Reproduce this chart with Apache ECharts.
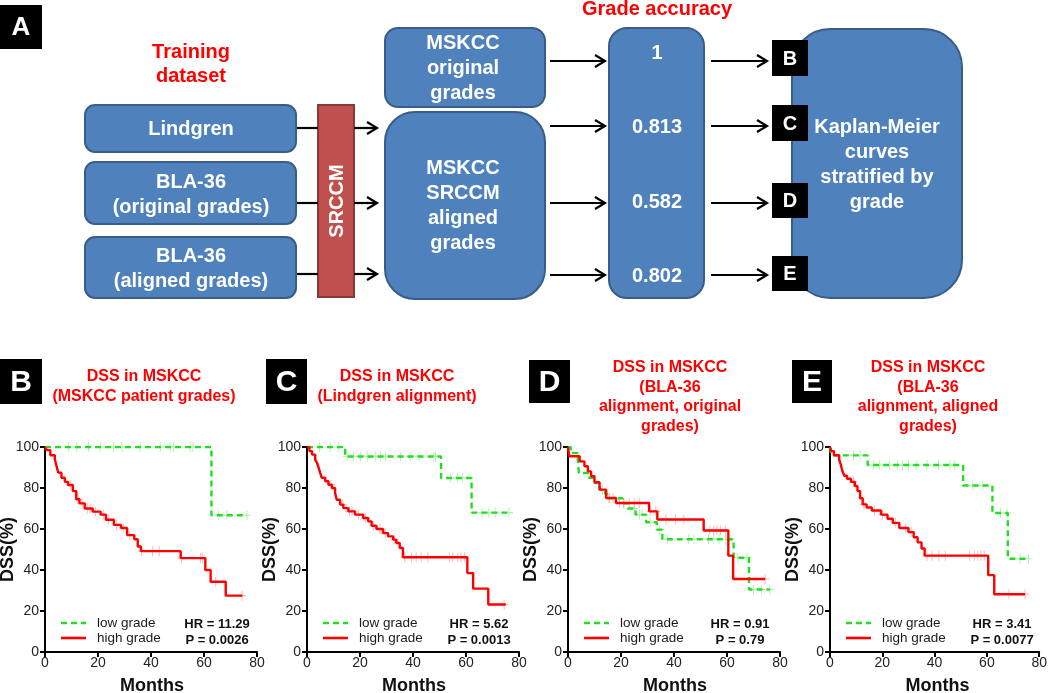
<!DOCTYPE html>
<html><head><meta charset="utf-8">
<script src="https://cdn.jsdelivr.net/npm/echarts@6/dist/echarts.min.js"></script>
<style>html,body{margin:0;padding:0;background:#fff}#c{width:1050px;height:693px}</style>
</head><body><div id="c"></div>
<script>
// ---------- DATA ----------
const xTicks = [0, 20, 40, 60, 80];
const yTicks = [0, 20, 40, 60, 80, 100];
const gradeAccuracy = ['1', '0.813', '0.582', '0.802'];
const panelLetters = ['B', 'C', 'D', 'E'];
const hrTexts = ['HR = 11.29', 'HR = 5.62', 'HR = 0.91', 'HR = 3.41'];
const pTexts = ['P = 0.0026', 'P = 0.0013', 'P = 0.79', 'P = 0.0077'];
const titlesB = ['DSS in MSKCC', '(MSKCC patient grades)'];
const titlesC = ['DSS in MSKCC', '(Lindgren alignment)'];
const titlesD = ['DSS in MSKCC', '(BLA-36', 'alignment, original', 'grades)'];
const titlesE = ['DSS in MSKCC', '(BLA-36', 'alignment, aligned', 'grades)'];

// Panel B (MSKCC patient grades): [months, DSS%] at events; last point = end of follow-up
const bLow = [[0,100],[62.8,66.7],[76.2,66.7]];
const bLowCens = [8.8,12,16.4,20.8,25.8,29,35.9,43.5,47.2,48.5,54.8,55.8,65.5,68.6,76.2];
const bHigh = [[0,100],[0.6,98.5],[2,96],[3.7,94],[4.4,90.5],[5,87.5],[6.2,85],[7.5,83],[8.7,81.5],[10.5,78.5],[11.8,74.5],[13,72.5],[15,70],[18,68.5],[21,67],[23,64.5],[26,62],[28.7,60.5],[31,57],[33.7,55],[35,51.5],[36.2,49.2],[51.2,45.8],[60.5,40],[62.5,34.3],[68.2,27.5],[74.5,27.5]];
const bHighCens = [9.5,12.5,14,16,17,19,22,24,27,29.5,32,36.5,40.6,43.1,51.5,58.7,59.4,64.4,74.4];

// Panel C (Lindgren alignment)
const cLow = [[0,100],[14.4,95.4],[50.6,84.9],[62.1,68],[76.2,68]];
const cLowCens = [4.7,8.8,12,15.1,17.6,20.2,22.7,25.8,27.7,29.6,35.3,39,42.2,47.9,48.5,54.2,56.7,58.6,66.1,68.6,71.2,76.2];
const cHigh = [[0,100],[0.9,98],[1.9,96.3],[3.1,93.8],[3.8,92.2],[4.4,89.8],[5,87.3],[5.6,85],[6.9,83.3],[8.1,81.6],[9.4,80],[10.6,77.6],[11.2,74.3],[12.5,71.9],[13.7,70.2],[15.6,68.6],[18.1,67],[21.2,65.4],[23.1,63.7],[24.4,61.6],[26.2,60],[28.7,58],[30.6,56.4],[32.5,54.8],[33.7,53.2],[35,50.7],[36.2,46.2],[60.5,38.5],[62.7,30.9],[68.4,23.2],[75,23.2]];
const cHighCens = [9,13.5,16,17,19.5,22,25,27.5,29.5,33,36.9,39.4,41.2,43.1,45.6,53.7,55,56.9,58.1,59.4,74.4];

// Panel D (BLA-36 alignment, original grades)
const dLow = [[0,100],[1,97],[3.7,94],[4.1,87.3],[7.5,85],[10,82.4],[12,79.2],[14,77],[15,75],[20.6,72.5],[22.5,70],[25.5,67],[29.5,63.3],[33.5,59.7],[35.6,55],[62.5,46],[68.3,30.5],[76.2,30.5]];
const dLowCens = [13,15.5,21,25,27,28,31,34.5,37.5,45.5,47.5,53,55,57,59.5,61.5,64,67.5,70,73,76.2];
const dHigh = [[0,100],[0.5,95.5],[4.4,93],[6.2,90.6],[7.5,88.1],[8.7,85.7],[10,82.8],[11.9,79.2],[14.4,75.1],[18.1,72.7],[30.6,68.6],[33.7,64.6],[51.2,59.3],[60.5,47],[62.3,35.6],[74.4,35.6]];
const dHighCens = [15.6,17,19.4,21,23.1,25,26.9,31.2,33.1,36.9,40.6,43.7,53.5,55,56.2,57.5,59.4,74.4];

// Panel E (BLA-36 alignment, aligned grades)
const eLow = [[0,100],[0.5,95.9],[14.4,91.2],[50.9,81.2],[62.1,67.8],[68,45.5],[75.9,45.5]];
const eLowCens = [9,11.5,16.5,19,22.7,25.9,27.7,30,33,37.1,41.5,45.9,47.7,54.6,58.4,65.2,67.7,72.7,75.9];
const eHigh = [[0,100],[0.5,98],[1.5,96],[3.5,94],[4.2,91],[4.8,88],[5.5,86],[6.5,84.5],[8,83],[9.5,81],[10.5,78.5],[11.5,75],[12.5,72],[14,70.5],[16,69],[19.5,67],[22,65],[24,63],[26.5,60.5],[30,58.5],[32,56],[33.5,53.5],[35,50.5],[36.2,47],[60.5,37.5],[62.8,28.2],[74.6,28.2]];
const eHighCens = [9,13,17,20,25,29,31,37.1,39,41.6,44.1,53.4,55.2,56.5,57.7,59,68.4,74.6];

// ---------- BUILD ----------
const FF = "'Liberation Sans', Arial, Helvetica, sans-serif";
const GREEN = '#22dd22', RED = '#ff0000';
const panels = [
  {left:45, width:212, low:bLow, lowC:bLowCens, high:bHigh, highC:bHighCens, titles:titlesB, tx:144, ty:377, box:[0,359,42,45]},
  {left:307, width:212, low:cLow, lowC:cLowCens, high:cHigh, highC:cHighCens, titles:titlesC, tx:397, ty:377, box:[266,359,41,45]},
  {left:568, width:212, low:dLow, lowC:dLowCens, high:dHigh, highC:dHighCens, titles:titlesD, tx:670, ty:368, box:[529,360,41,43]},
  {left:830, width:213, low:eLow, lowC:eLowCens, high:eHigh, highC:eHighCens, titles:titlesE, tx:928, ty:368, box:[792,360,40,43]}
];
const TOP = 447, H = 205;

function survAt(curve, t) {
  let v = curve[0][1];
  for (const p of curve) { if (p[0] <= t) v = p[1]; }
  return v;
}
const PLUS = 'path://M-0.12,-1 L0.12,-1 L0.12,-0.12 L1,-0.12 L1,0.12 L0.12,0.12 L0.12,1 L-0.12,1 L-0.12,0.12 L-1,0.12 L-1,-0.12 L-0.12,-0.12 Z';

const grids = [], xAxes = [], yAxes = [], series = [], graphics = [];
function T(x, y, text, size, color, weight, align, valign, rot) {
  return {type:'text', x:x, y:y, rotation:rot||0, z:20,
    style:{text:text, fill:color, fontSize:size, fontWeight:weight||'normal', fontFamily:FF,
      textAlign:align||'center', textVerticalAlign:valign||'middle'}};
}
function R(x, y, w, h, r, fill, stroke, z) {
  return {type:'rect', z:z||5, shape:{x:x, y:y, width:w, height:h, r:r}, style:{fill:fill, stroke:stroke||null, lineWidth:stroke?2:0}};
}
function ARROW(x1, x2, y) {
  return [
    {type:'line', z:6, shape:{x1:x1, y1:y, x2:x2-1, y2:y}, style:{stroke:'#000', lineWidth:2.2}},
    {type:'polyline', z:6, shape:{points:[[x2-10,y-6],[x2,y],[x2-10,y+6]]}, style:{stroke:'#000', lineWidth:2.2, fill:null}}
  ];
}

panels.forEach((p, i) => {
  grids.push({left:p.left, top:TOP, width:p.width, height:H, containLabel:false});
  const axisCommon = {
    axisLine:{show:true, onZero:false, lineStyle:{color:'#000', width:2}},
    axisTick:{show:true, inside:false, length:5, lineStyle:{color:'#000', width:2}},
    splitLine:{show:false}
  };
  xAxes.push(Object.assign({type:'value', gridIndex:i, min:xTicks[0], max:xTicks[xTicks.length-1], interval:xTicks[1]-xTicks[0],
    axisLabel:{fontSize:14, color:'#222', fontFamily:FF, margin:4}}, axisCommon));
  yAxes.push(Object.assign({type:'value', gridIndex:i, min:yTicks[0], max:yTicks[yTicks.length-1], interval:yTicks[1]-yTicks[0],
    axisLabel:{fontSize:14, color:'#222', fontFamily:FF, margin:6}}, axisCommon));

  // censor marks
  series.push({type:'scatter', name:'low grade censored', xAxisIndex:i, yAxisIndex:i, symbol:PLUS, symbolSize:[8,10], z:2, silent:true,
    itemStyle:{color:'#9ff09f'}, data:p.lowC.map(t => [t, survAt(p.low, t)])});
  series.push({type:'scatter', name:'high grade censored', xAxisIndex:i, yAxisIndex:i, symbol:PLUS, symbolSize:[8,10], z:2, silent:true,
    itemStyle:{color:'#f6a6a6'}, data:p.highC.map(t => [t, survAt(p.high, t)])});
  // KM curves
  series.push({type:'line', name:'low grade', xAxisIndex:i, yAxisIndex:i, step:'end', symbol:'none', z:3, silent:true,
    lineStyle:{color:GREEN, width:2.4, type:[6,4]}, data:p.low});
  series.push({type:'line', name:'high grade', xAxisIndex:i, yAxisIndex:i, step:'end', symbol:'none', z:4, silent:true,
    lineStyle:{color:RED, width:2.4}, data:p.high});

  // titles
  p.titles.forEach((s, k) => graphics.push(T(p.tx, p.ty + k*19.5, s, 16, RED, 'bold')));
  // letter box
  graphics.push(R(p.box[0], p.box[1], p.box[2], p.box[3], 0, '#000'));
  graphics.push(T(p.box[0]+p.box[2]/2, p.box[1]+p.box[3]/2+1, panelLetters[i], 30, '#fff', 'bold'));
  // axis names
  graphics.push(T(p.left - 37, TOP + H/2, 'DSS(%)', 18, '#111', 'bold', 'center', 'middle', Math.PI/2));
  graphics.push(T(p.left + p.width/2 + 1, 686, 'Months', 18, '#111', 'bold'));
  // legend
  graphics.push({type:'line', z:20, shape:{x1:p.left+16, y1:623, x2:p.left+41, y2:623}, style:{stroke:GREEN, lineWidth:2.4, lineDash:[6,4]}});
  graphics.push({type:'line', z:20, shape:{x1:p.left+16, y1:638, x2:p.left+41, y2:638}, style:{stroke:RED, lineWidth:2.6}});
  graphics.push(T(p.left+52, 623, 'low grade', 13.5, '#1a1a1a', 'normal', 'left'));
  graphics.push(T(p.left+52, 638, 'high grade', 13.5, '#1a1a1a', 'normal', 'left'));
  // stats
  graphics.push(T(p.left+172, 624, hrTexts[i], 13, '#111', 'bold'));
  graphics.push(T(p.left+172, 640, pTexts[i], 13, '#111', 'bold'));
});

// ---------- FLOWCHART (panel A) ----------
const BLUE = '#4f81bd', BLUE_S = '#385d8a';
graphics.push(R(0, 5, 42, 44, 0, '#000'));
graphics.push(T(21, 28, 'A', 26, '#fff', 'bold'));
graphics.push(T(191, 52, 'Training', 20, RED, 'bold'));
graphics.push(T(191, 76, 'dataset', 20, RED, 'bold'));
graphics.push(T(657, 9, 'Grade accuracy', 20, RED, 'bold'));

graphics.push(R(85, 105, 211, 47, 10, BLUE, BLUE_S));
graphics.push(R(85, 162, 211, 62, 10, BLUE, BLUE_S));
graphics.push(R(85, 237, 211, 61, 10, BLUE, BLUE_S));
graphics.push(T(191, 129, 'Lindgren', 20, '#fff', 'bold'));
graphics.push(T(191, 182, 'BLA-36', 20, '#fff', 'bold'));
graphics.push(T(191, 207, '(original grades)', 20, '#fff', 'bold'));
graphics.push(T(191, 256, 'BLA-36', 20, '#fff', 'bold'));
graphics.push(T(191, 281, '(aligned grades)', 20, '#fff', 'bold'));

graphics.push(R(318, 105, 36, 192, 0, '#c0504d', '#8c3836'));
graphics.push(T(337, 201, 'SRCCM', 20, '#fff', 'bold', 'center', 'middle', Math.PI/2));

[128, 203, 274].forEach(y => {
  graphics.push({type:'line', z:6, shape:{x1:297, y1:y, x2:318, y2:y}, style:{stroke:'#000', lineWidth:2.2}});
  ARROW(354, 377, y).forEach(g => graphics.push(g));
});

graphics.push(R(385, 28, 160, 79, 13, BLUE, BLUE_S));
graphics.push(R(385, 112, 160, 187, 30, BLUE, BLUE_S));
['MSKCC', 'original', 'grades'].forEach((s, k) => graphics.push(T(463, 43 + k*25, s, 20, '#fff', 'bold')));
['MSKCC', 'SRCCM', 'aligned', 'grades'].forEach((s, k) => graphics.push(T(463, 168 + k*25, s, 20, '#fff', 'bold')));

const rowsY = [61, 126, 203, 275];
rowsY.forEach(y => ARROW(550, 605, y).forEach(g => graphics.push(g)));
graphics.push(R(609, 28, 95, 270, 18, BLUE, BLUE_S));
const accY = [53, 127, 202, 276];
gradeAccuracy.forEach((s, k) => graphics.push(T(657, accY[k], s, 20, '#fff', 'bold')));
rowsY.forEach(y => ARROW(711, 767, y).forEach(g => graphics.push(g)));

graphics.push(R(792, 29, 170, 269, 38, BLUE, BLUE_S));
['Kaplan-Meier', 'curves', 'stratified by', 'grade'].forEach((s, k) => graphics.push(T(877, 127 + k*25, s, 20, '#fff', 'bold')));
const lbY = [[40,36],[105,36],[183,35],[256,35]];
panelLetters.forEach((L, k) => {
  graphics.push(R(772, lbY[k][0], 36, lbY[k][1], 0, '#000', null, 8));
  graphics.push(T(790, lbY[k][0] + lbY[k][1]/2 + 1, L, 20, '#fff', 'bold'));
});

const chart = echarts.init(document.getElementById('c'), null, {renderer:'canvas'});
chart.setOption({
  animation:false,
  backgroundColor:'#fff',
  textStyle:{fontFamily:FF},
  grid:grids, xAxis:xAxes, yAxis:yAxes, series:series,
  graphic:{elements:graphics}
});
</script></body></html>
